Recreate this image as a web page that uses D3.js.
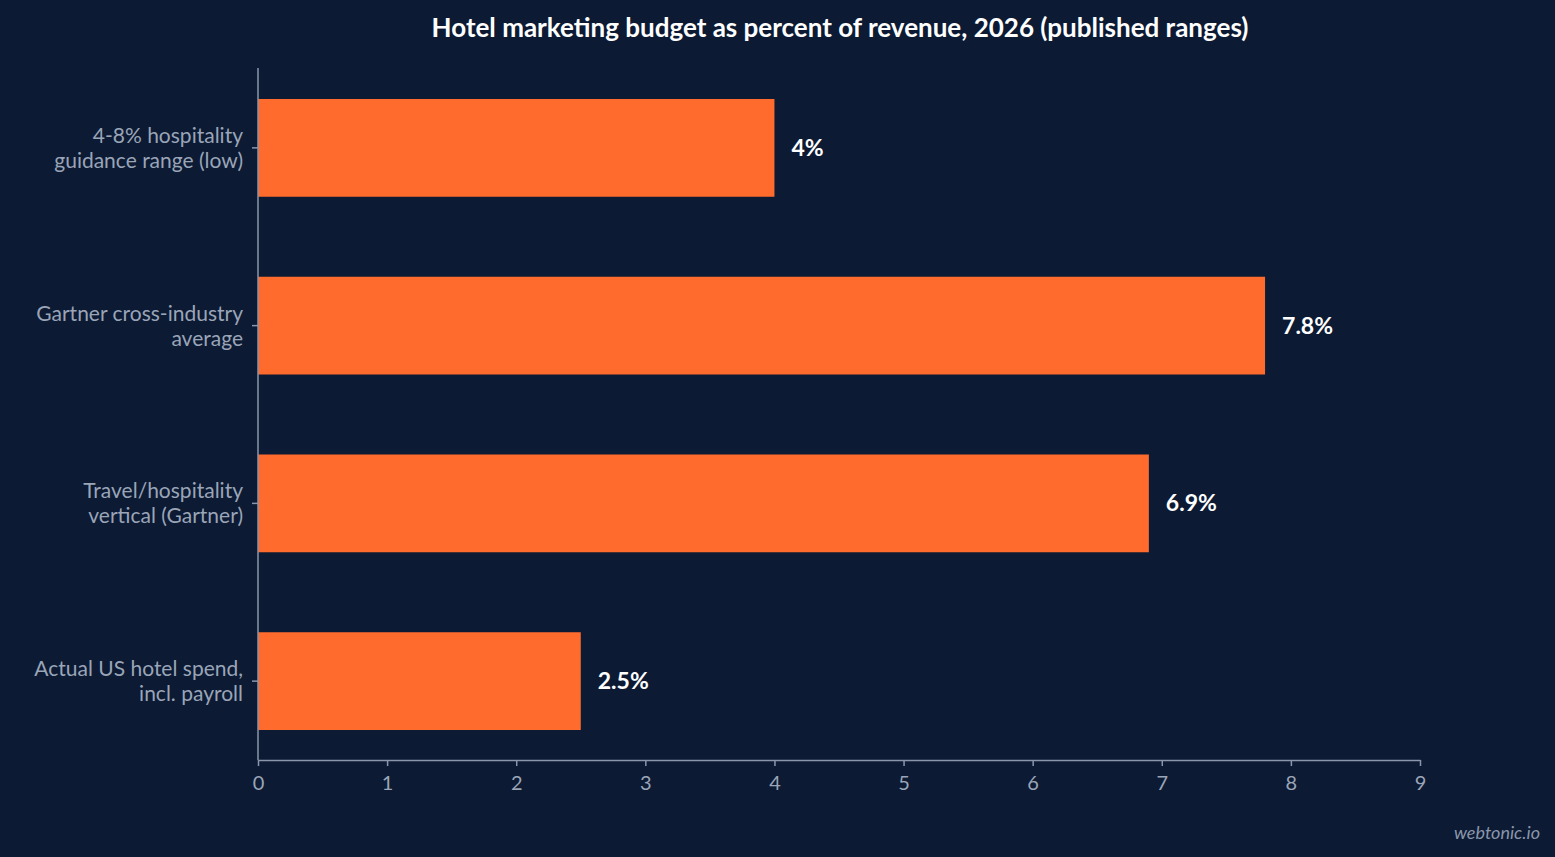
<!DOCTYPE html>
<html><head><meta charset="utf-8">
<script src="https://cdn.jsdelivr.net/npm/d3@7"></script>
<style>body{margin:0;background:#0c1a33;}svg{display:block;font-family:Lato,sans-serif;}</style>
</head><body><svg id="c" width="1555" height="857"></svg>
<script>
const categories = [["4-8% hospitality","guidance range (low)"],["Gartner cross-industry","average"],["Travel/hospitality","vertical (Gartner)"],["Actual US hotel spend,","incl. payroll"]];
const values = [4, 7.8, 6.9, 2.5];
const valueLabels = ["4%","7.8%","6.9%","2.5%"];
const xTicks = [0,1,2,3,4,5,6,7,8,9];

const svg = d3.select("#c");
svg.append("rect").attr("width",1555).attr("height",857).attr("fill","#0c1a33");
const x = d3.scaleLinear().domain([0,9]).range([258,1420]);
const y = d3.scaleBand().domain(d3.range(categories.length)).range([59,770]).paddingInner(0.45).paddingOuter(0.225);
const grey="#9aa5b8", axisCol="#8a96ab";

svg.append("text").attr("x",840).attr("y",37).attr("text-anchor","middle").attr("fill","#fff")
  .attr("font-size",26).attr("font-weight","bold").text("Hotel marketing budget as percent of revenue, 2026 (published ranges)");

svg.selectAll(".bar").data(values).enter().append("rect")
  .attr("x",x(0)).attr("y",(d,i)=>y(i)).attr("width",d=>x(d)-x(0)).attr("height",y.bandwidth()).attr("fill","#ff6b2c");
svg.selectAll(".vl").data(values).enter().append("text")
  .attr("x",d=>x(d)+17).attr("y",(d,i)=>y(i)+y.bandwidth()/2+8).attr("fill","#fff")
  .attr("font-size",23).attr("font-weight","bold").text((d,i)=>valueLabels[i]);

// y axis
svg.append("line").attr("x1",258).attr("x2",258).attr("y1",68).attr("y2",760).attr("stroke",axisCol).attr("stroke-width",1.5);
categories.forEach((c,i)=>{
  const cy=y(i)+y.bandwidth()/2;
  svg.append("line").attr("x1",252).attr("x2",258).attr("y1",cy).attr("y2",cy).attr("stroke",axisCol).attr("stroke-width",1.5);
  const t=svg.append("text").attr("text-anchor","end").attr("fill",grey).attr("font-size",21);
  c.forEach((l,k)=>t.append("tspan").attr("x",243).attr("y",cy-5+k*25).text(l));
});
// x axis
const xa=svg.append("g").attr("transform","translate(0,760)").call(d3.axisBottom(x).tickValues(xTicks).tickSize(6).tickSizeOuter(0));
xa.select(".domain").attr("stroke",axisCol).attr("stroke-width",1.5);
xa.selectAll(".tick line").attr("stroke",axisCol).attr("stroke-width",1.5);
xa.selectAll(".tick text").attr("fill",grey).attr("font-size",20).attr("font-family","Lato").attr("dy","1.05em");

svg.append("text").attr("x",1540).attr("y",839).attr("text-anchor","end").attr("fill","#8a96ab")
  .attr("font-size",18).attr("font-style","italic").text("webtonic.io");
</script></body></html>
